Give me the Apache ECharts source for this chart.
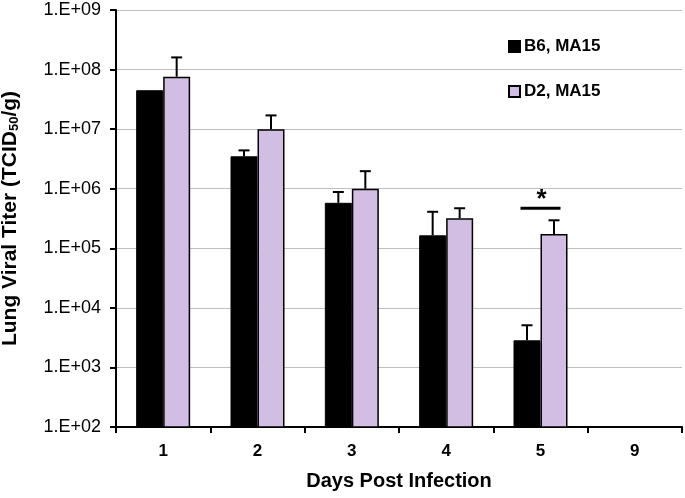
<!DOCTYPE html>
<html>
<head>
<meta charset="utf-8">
<script src="https://cdn.jsdelivr.net/npm/echarts@6/dist/echarts.min.js"></script>
<style>html,body{margin:0;padding:0;background:#fff}#c{width:685px;height:498px}</style>
</head>
<body>
<div id="c"></div>
<script>
const days = ['1', '2', '3', '4', '5', '9'];
const seriesNames = ['B6, MA15', 'D2, MA15'];
const b6Values = [4.5e7, 3.5e6, 5.8e5, 1.65e5, 2.85e3, null];
const d2Values = [7.6e7, 1.0e7, 1.0e6, 3.2e5, 1.74e5, null];
const b6ErrTop = [null, 4.4e6, 8.8e5, 4.1e5, 5.1e3, null];
const d2ErrTop = [1.6e8, 1.7e7, 1.97e6, 4.7e5, 2.95e5, null];
const sigMarks = [[4, 4.69e5, '*']];

const FONT = 'Liberation Sans, Arial, sans-serif';
const BAR_W = 27;
const PURPLE = '#D2BDE3';

function errData(vals, tops) {
  const out = [];
  vals.forEach((v, i) => { if (v != null && tops[i] != null) out.push([i, v, tops[i]]); });
  return out;
}
function errRender(offset) {
  return function (params, api) {
    const base = api.coord([api.value(0), api.value(1)]);
    const top = api.coord([api.value(0), api.value(2)]);
    const x = base[0] + offset;
    return {
      type: 'group',
      children: [
        { type: 'line', shape: { x1: x, y1: base[1], x2: x, y2: top[1] }, style: { stroke: '#000', lineWidth: 2 } },
        { type: 'line', shape: { x1: x - 5.5, y1: top[1], x2: x + 5.5, y2: top[1] }, style: { stroke: '#000', lineWidth: 2 } }
      ]
    };
  };
}

const chart = echarts.init(document.getElementById('c'), null, { renderer: 'canvas' });
chart.setOption({
  animation: false,
  backgroundColor: '#fff',
  textStyle: { fontFamily: FONT },
  grid: { left: 116, right: 3, top: 10, bottom: 71, outerBoundsMode: 'none', containLabel: false },
  legend: {
    orient: 'vertical',
    left: 503,
    top: 33,
    itemWidth: 11,
    itemHeight: 11,
    itemGap: 28,
    icon: 'rect',
    data: seriesNames,
    textStyle: { fontFamily: FONT, fontSize: 17, fontWeight: 'bold', color: '#000', padding: [0, 0, 0, -1] }
  },
  xAxis: {
    type: 'category',
    data: days,
    boundaryGap: true,
    axisLine: { lineStyle: { color: '#000', width: 2 } },
    axisTick: { show: true, length: 6, lineStyle: { color: '#000', width: 2 } },
    axisLabel: { fontFamily: FONT, fontSize: 17, fontWeight: 'bold', color: '#000', margin: 16 },
    name: 'Days Post Infection',
    nameLocation: 'middle',
    nameGap: 44,
    nameTextStyle: { fontFamily: FONT, fontSize: 20, fontWeight: 'bold', color: '#000' }
  },
  yAxis: {
    type: 'log',
    logBase: 10,
    min: 100,
    max: 1e9,
    axisLine: { show: true, lineStyle: { color: '#000', width: 2 } },
    axisTick: { show: true, length: 6, lineStyle: { color: '#000', width: 2 } },
    splitLine: { show: true, lineStyle: { color: '#BFBFBF', width: 1 } },
    axisLabel: {
      fontFamily: FONT, fontSize: 18, color: '#000', margin: 15,
      formatter: v => '1.E+' + String(Math.round(Math.log10(v))).padStart(2, '0')
    },
    name: 'Lung Viral Titer (TCID{sub|50}/g)',
    nameLocation: 'middle',
    nameGap: 95,
    nameTextStyle: {
      fontFamily: FONT, fontSize: 21, fontWeight: 'bold', color: '#000',
      rich: { sub: { fontFamily: FONT, fontSize: 13, fontWeight: 'bold', color: '#000', verticalAlign: 'bottom', padding: [9, 0, 0, 0] } }
    }
  },
  series: [
    {
      name: seriesNames[0], type: 'bar', data: b6Values, barWidth: BAR_W, barGap: '0%', clip: true,
      itemStyle: { color: '#000', borderColor: '#000', borderWidth: 1 }
    },
    {
      name: seriesNames[1], type: 'bar', data: d2Values, barWidth: BAR_W, barGap: '0%', clip: true,
      itemStyle: { color: PURPLE, borderColor: '#000', borderWidth: 1.5 }
    },
    { type: 'custom', data: errData(b6Values, b6ErrTop), renderItem: errRender(-BAR_W / 2), z: 5, silent: true },
    { type: 'custom', data: errData(d2Values, d2ErrTop), renderItem: errRender(BAR_W / 2), z: 5, silent: true },
    {
      type: 'custom', data: sigMarks, z: 6, silent: true,
      renderItem: function (params, api) {
        const p = api.coord([api.value(0), api.value(1)]);
        return {
          type: 'group',
          children: [
            { type: 'line', shape: { x1: p[0] - 20, y1: p[1], x2: p[0] + 20, y2: p[1] }, style: { stroke: '#000', lineWidth: 3 } },
            { type: 'text', x: p[0] + 1, y: p[1] + 5, style: { text: '*', fontFamily: FONT, fontSize: 26, fontWeight: 'bold', fill: '#000', align: 'center', verticalAlign: 'bottom' } }
          ]
        };
      }
    }
  ]
});
</script>
</body>
</html>
